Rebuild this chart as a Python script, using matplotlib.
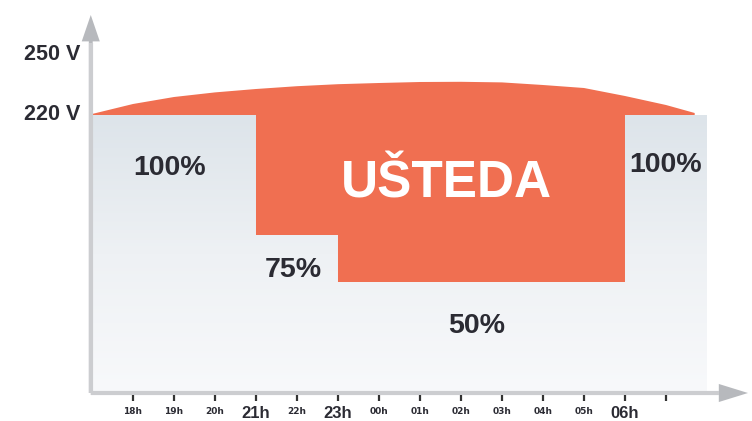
import numpy as np
import matplotlib
matplotlib.use('Agg')
import matplotlib.pyplot as plt
from matplotlib.colors import LinearSegmentedColormap

# sati na x osi (zadnja crtica bez oznake)
hours = ['18h', '19h', '20h', '21h', '22h', '23h', '00h', '01h',
         '02h', '03h', '04h', '05h', '06h', '']
big_hours = ['21h', '23h', '06h']

# napon mreže - gornja krivulja (x = indeks sata, y = V)
curve_x = [-1.0, 0, 1, 2, 3, 4, 5, 6, 7, 8, 9, 10, 11, 12, 13, 13.7]
curve_v = [220.5, 225.5, 229, 231.3, 233, 234.4, 235.4, 236, 236.5,
           236.6, 236.3, 235, 233.5, 229.5, 225, 221]

# regulirani napon po razdobljima (stepenice)
step_x = [-1, 3, 5, 12, 13.7]
step_v = [220, 160, 136.5, 220]

# siva podloga (100 % razina)
base_x = [-1, 14]
base_top = 220
base_bottom = 81

yticks = [220, 250]

orange = '#f06f51'
axis_col = '#cccdd0'
head_col = '#b7b9bd'
txt_col = '#2b2b33'

plt.rcParams['font.family'] = ['Liberation Sans', 'DejaVu Sans']

fig = plt.figure(figsize=(7.52, 4.21), dpi=100)
ax = fig.add_axes([0, 0, 1, 1])
ax.set_xlim(-3.244, 15.098)
ax.set_ylim(67, 277.5)
ax.axis('off')

# siva podloga s prijelazom prema bijelom
cmap = LinearSegmentedColormap.from_list('bg', ['#f8f9fb', '#eef1f4', '#dde4ea'])
grad = np.linspace(0, 1, 256).reshape(-1, 1)
ax.imshow(grad, extent=[base_x[0], base_x[1], base_bottom, base_top],
          origin='lower', cmap=cmap, aspect='auto', zorder=1)

# ušteda: između krivulje napona i reguliranog napona
low_x, low_y = [], []
for k in range(len(step_v)):
    low_x += [step_x[k], step_x[k + 1]]
    low_y += [step_v[k], step_v[k]]
poly_x = list(curve_x) + low_x[::-1]
poly_y = list(curve_v) + low_y[::-1]
ax.fill(poly_x, poly_y, color=orange, lw=0, zorder=2)

# osi sa strelicama
ax_x0 = -1.03
ax_y0 = 81
ax.annotate('', xy=(ax_x0, 270), xytext=(ax_x0, ax_y0),
            arrowprops=dict(width=2.8, headwidth=13, headlength=19,
                            color=head_col, lw=0), zorder=3)
ax.annotate('', xy=(15.0, ax_y0), xytext=(ax_x0, ax_y0),
            arrowprops=dict(width=2.8, headwidth=13, headlength=21,
                            color=head_col, lw=0), zorder=3)
ax.plot([ax_x0, ax_x0], [ax_y0, 256], color=axis_col, lw=3, zorder=4,
        solid_capstyle='butt')
ax.plot([ax_x0, 14.3], [ax_y0, ax_y0], color=axis_col, lw=3, zorder=4,
        solid_capstyle='butt')

# crtice i oznake sati
hx = np.arange(len(hours))
ax.plot(hx, np.full(len(hours), 78.3), ls='none', marker='|', ms=5,
        mew=1.6, color='#333333', zorder=5)
for i, h in enumerate(hours):
    if h in big_hours:
        ax.text(i, 71, h, ha='center', va='center', fontsize=12,
                fontweight='bold', color=txt_col)
    elif h:
        ax.text(i, 71.5, h, ha='center', va='center', fontsize=6.5,
                fontweight='bold', color=txt_col, family='DejaVu Sans')

# oznake napona
for v in yticks:
    ax.text(-1.29, v, f'{v} V', ha='right', va='center', fontsize=15.5,
            fontweight='bold', color=txt_col)

# postotci
ax.text(0.9, 190, '100%', ha='center', va='baseline', fontsize=20.5,
        fontweight='bold', color=txt_col, zorder=6)
ax.text(12.98, 191.5, '100%', ha='center', va='baseline', fontsize=20.5,
        fontweight='bold', color=txt_col, zorder=6)
ax.text(3.91, 139, '75%', ha='center', va='baseline', fontsize=20.5,
        fontweight='bold', color=txt_col, zorder=6)
ax.text(8.37, 111, '50%', ha='center', va='baseline', fontsize=20.5,
        fontweight='bold', color=txt_col, zorder=6)
ax.text(7.65, 179, 'UŠTEDA', ha='center', va='baseline', fontsize=37,
        fontweight='bold', color='white', zorder=6)

fig.savefig('out.png', dpi=100, facecolor='white')
